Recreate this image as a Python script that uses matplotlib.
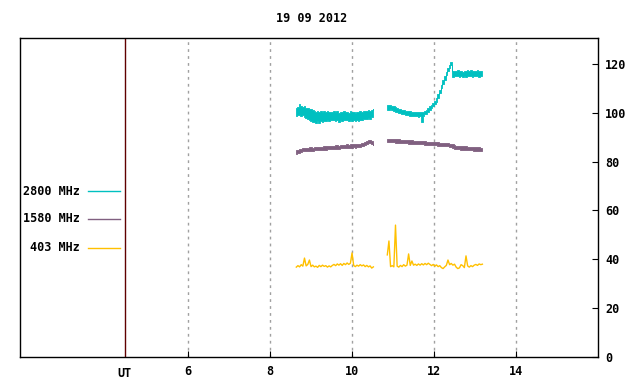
import numpy as np
import matplotlib
matplotlib.use("Agg")
import matplotlib.pyplot as plt
from matplotlib.lines import Line2D

title = "19 09 2012"
x_ticks = [6, 8, 10, 12, 14]
y_ticks = [0, 20, 40, 60, 80, 100, 120]
ut_pos = 4.46
step = 0.04
seg1_start = 8.64
seg2_start = 10.86

# 2800 MHz: upper / lower envelope of the noisy trace
hi2800_a = [102.0, 102.5, 103.6, 102.8, 102.4, 102.6, 102.0, 101.8, 101.4, 101.6,
            101.0, 100.8, 100.5, 100.9, 100.4, 100.8, 100.2, 100.6, 100.3, 100.7,
            100.1, 100.5, 100.2, 100.8, 100.4, 100.6, 100.0, 100.4, 100.2, 100.7,
            100.3, 100.5, 99.9, 100.6, 100.3, 100.4, 100.0, 100.5, 100.2, 100.8,
            100.4, 100.6, 100.9, 100.7, 101.0, 100.8, 101.3, 101.5]
lo2800_a = [98.7, 99.0, 99.2, 98.8, 98.9, 98.4, 98.0, 97.6, 97.2, 96.8,
            96.4, 96.2, 95.8, 96.6, 96.0, 96.5, 96.3, 96.8, 96.6, 97.0,
            96.7, 97.2, 96.9, 97.1, 96.8, 97.0, 96.4, 96.9, 96.7, 97.2,
            96.9, 97.1, 96.6, 97.0, 96.8, 97.2, 96.5, 96.9, 96.8, 97.2,
            97.0, 97.3, 97.5, 97.4, 97.8, 97.6, 98.1, 98.3]
hi2800_b = [103.3, 103.1, 103.0, 102.8, 102.6, 102.2, 102.0, 101.7, 101.5, 101.2,
            101.1, 100.9, 100.8, 100.7, 100.6, 100.5, 100.5, 100.4, 100.3, 100.2,
            100.3, 100.1, 100.5, 100.9, 101.2, 101.9, 102.6, 103.2, 104.0, 104.8,
            105.9, 107.6, 109.3, 111.4, 113.3, 115.0, 116.7, 118.3, 119.7, 120.7,
            117.0, 117.2, 117.0, 117.3, 116.9, 117.1, 116.8, 117.2, 116.9, 117.3,
            117.0, 117.4, 116.9, 117.2, 117.0, 117.3, 116.9, 117.2, 117.0]
lo2800_b = [101.0, 101.3, 101.5, 101.0, 100.9, 100.5, 100.3, 99.9, 99.7, 99.4,
            99.3, 99.1, 99.0, 98.9, 98.8, 98.7, 98.7, 98.6, 98.5, 98.4,
            98.5, 96.2, 98.8, 99.3, 99.6, 100.5, 101.2, 101.8, 102.6, 103.4,
            104.5, 106.2, 107.9, 110.0, 111.9, 113.6, 115.3, 116.9, 118.3, 119.5,
            114.8, 115.0, 114.9, 115.2, 114.7, 115.0, 114.6, 115.1, 114.8, 115.1,
            114.9, 115.2, 114.8, 115.1, 114.9, 115.2, 114.8, 115.0, 114.9]

# 1580 MHz envelope
hi1580_a = [84.9, 84.8, 85.0, 85.3, 85.5, 85.6, 85.7, 85.6, 85.8, 85.8,
            85.7, 85.9, 86.0, 85.9, 86.1, 86.1, 86.0, 86.3, 86.2, 86.3,
            86.2, 86.5, 86.4, 86.5, 86.6, 86.6, 86.5, 86.8, 86.7, 86.8,
            86.8, 87.0, 86.9, 87.0, 87.1, 87.1, 87.0, 87.3, 87.2, 87.4,
            87.5, 87.6, 87.9, 88.3, 88.8, 89.0, 88.6, 88.0]
lo1580_a = [83.3, 83.4, 83.7, 84.0, 84.2, 84.3, 84.2, 84.4, 84.4, 84.5,
            84.4, 84.6, 84.6, 84.7, 84.6, 84.8, 84.8, 84.9, 84.8, 85.0,
            85.0, 85.1, 85.0, 85.2, 85.2, 85.3, 85.2, 85.4, 85.4, 85.5,
            85.5, 85.6, 85.5, 85.7, 85.7, 85.8, 85.7, 85.9, 85.9, 86.1,
            86.2, 86.3, 86.6, 87.0, 87.5, 87.7, 87.3, 86.7]
hi1580_b = [89.4, 89.4, 89.3, 89.3, 89.2, 89.2, 89.1, 89.1, 89.0, 89.0,
            88.9, 88.9, 88.8, 88.8, 88.7, 88.7, 88.6, 88.6, 88.5, 88.5,
            88.4, 88.4, 88.3, 88.3, 88.2, 88.2, 88.1, 88.1, 88.0, 88.0,
            87.9, 87.9, 87.8, 87.8, 87.7, 87.7, 87.6, 87.5, 87.4, 87.2,
            87.0, 86.7, 86.5, 86.4, 86.4, 86.3, 86.3, 86.2, 86.2, 86.1,
            86.1, 86.0, 86.0, 85.9, 85.9, 85.8, 85.8, 85.7, 85.6]
lo1580_b = [88.0, 88.1, 88.0, 87.9, 87.9, 87.8, 87.8, 87.7, 87.7, 87.6,
            87.6, 87.5, 87.5, 87.4, 87.4, 87.3, 87.3, 87.2, 87.2, 87.1,
            87.1, 87.0, 87.0, 86.9, 86.9, 86.8, 86.8, 86.7, 86.7, 86.6,
            86.6, 86.5, 86.5, 86.4, 86.4, 86.3, 86.3, 86.2, 86.0, 85.8,
            85.6, 85.3, 85.1, 85.0, 85.0, 84.9, 84.9, 84.8, 84.8, 84.7,
            84.7, 84.6, 84.6, 84.5, 84.5, 84.4, 84.4, 84.3, 84.2]

# 403 MHz trace
f403_a = [36.8, 37.4, 36.9, 37.8, 37.2, 40.5, 37.3, 37.9, 39.7, 37.0, 37.6, 36.9,
          37.2, 36.7, 37.5, 37.0, 37.6, 37.1, 37.4, 36.8, 37.3, 36.9, 37.5, 37.9,
          37.4, 38.1, 37.6, 38.2, 37.5, 38.3, 37.8, 38.5, 37.9, 38.4, 42.6, 37.5,
          37.0, 37.6, 37.2, 37.8, 37.3, 37.7, 37.0, 37.5, 36.9, 37.3, 36.4, 36.9]
f403_b = [41.8, 47.5, 37.0, 37.4, 36.9, 54.0, 37.2, 36.8, 37.5, 37.0, 37.8, 37.2,
          37.6, 42.2, 37.5, 39.3, 37.6, 38.0, 37.5, 38.1, 37.6, 38.2, 37.7, 38.3,
          37.8, 38.4, 37.9, 37.4, 37.9, 37.2, 37.7, 37.0, 37.4, 36.6, 36.2, 36.9,
          37.5, 39.7, 37.8, 38.3, 37.6, 38.0, 36.8, 36.2, 36.5, 37.8, 37.4, 36.6,
          41.4, 37.3, 36.8, 37.4, 37.0, 37.6, 37.9, 37.5, 38.1, 37.8, 38.0]

labels = ["2800 MHz", "1580 MHz", "403 MHz"]
colors = ["#00c0c0", "#806080", "#ffc000"]

FONT = dict(family="DejaVu Sans Mono", fontweight="bold", fontsize=8.5)

fig = plt.figure(figsize=(6.4, 3.84), dpi=100)
ax = fig.add_axes([20/640, 27/384, 578/640, 319/384])
ax.set_xlim(1.9, 16.0)
ax.set_ylim(0, 130.6)

for x in x_ticks:
    ax.axvline(x, color="#a0a0a0", lw=1, ls=(0, (2, 3)), zorder=1)
ax.axvline(ut_pos, color="#600000", lw=1, zorder=2)

def tgrid(start, n):
    return start + step * np.arange(n)

# 403 MHz line
ax.plot(tgrid(seg1_start, len(f403_a)), f403_a, color=colors[2], lw=1, zorder=3)
ax.plot(tgrid(seg2_start, len(f403_b)), f403_b, color=colors[2], lw=1, zorder=3)

# 1580 / 2800 noisy bands
for (hi, lo, st), c in [((hi1580_a, lo1580_a, seg1_start), colors[1]),
                        ((hi1580_b, lo1580_b, seg2_start), colors[1]),
                        ((hi2800_a, lo2800_a, seg1_start), colors[0]),
                        ((hi2800_b, lo2800_b, seg2_start), colors[0])]:
    t = tgrid(st, len(hi))
    ax.fill_between(t, lo, hi, step="mid", color=c, lw=0.6, edgecolor=c, zorder=3)

for s in ax.spines.values():
    s.set_color("black")
    s.set_linewidth(1)

ax.set_xticks(x_ticks)
ax.set_xticklabels([str(v) for v in x_ticks], **FONT)
ax.tick_params(axis="x", direction="in", length=4, pad=6, top=False)
ax.yaxis.tick_right()
ax.set_yticks(y_ticks)
ax.set_yticklabels([str(v) for v in y_ticks], **FONT)
ax.tick_params(axis="y", direction="in", length=4, pad=5, left=False, right=True)
ax.text(ut_pos, -4, "UT", ha="center", va="top", **FONT)

legend_y = [0.520, 0.433, 0.342]
for lab, c, yy in zip(labels, colors, legend_y):
    ax.text(0.104, yy, lab, transform=ax.transAxes, ha="right", va="center", **FONT)
    ax.add_line(Line2D([0.118, 0.173], [yy, yy], transform=ax.transAxes, color=c, lw=1))

fig.text(312/640, 1 - 18/384, title, ha="center", va="center", **FONT)

fig.savefig("out.png", dpi=100)
